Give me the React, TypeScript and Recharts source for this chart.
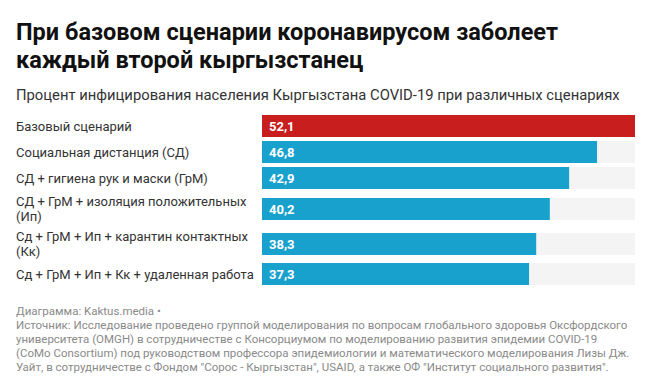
import { Bar, BarChart, LabelList, XAxis, YAxis } from 'recharts';

const categories = [
  'Базовый сценарий',
  'Социальная дистанция (СД)',
  'СД + гигиена рук и маски (ГрМ)',
  'СД + ГрМ + изоляция положительных (Ип)',
  'Сд + ГрМ + Ип + карантин контактных (Кк)',
  'Сд + ГрМ + Ип + Кк + удаленная работа',
];
const values = [52.1, 46.8, 42.9, 40.2, 38.3, 37.3];

const title = 'При базовом сценарии коронавирусом заболеет каждый второй кыргызстанец';
const subtitle = 'Процент инфицирования населения Кыргызстана COVID-19 при различных сценариях';
const credit = 'Диаграмма: Kaktus.media •';
const sourceLines = [
  'Источник: Исследование проведено группой моделирования по вопросам глобального здоровья Оксфордского',
  'университета (OMGH) в сотрудничестве с Консорциумом по моделированию развития эпидемии COVID-19',
  '(CoMo Consortium) под руководством профессора эпидемиологии и математического моделирования Лизы Дж.',
  'Уайт, в сотрудничестве с Фондом "Сорос - Кыргызстан", USAID, а также ОФ "Институт социального развития".',
];

const maxValue = Math.max(...values);
const font = 'Roboto, "Noto Sans", sans-serif';

const Row = ({ name, value, color }: any) => (
  <div style={{ display: 'flex', alignItems: 'center', marginBottom: 4 }}>
    <div
      style={{
        width: 240,
        marginRight: 6,
        fontSize: 13,
        lineHeight: '15px',
        padding: '0.5px 0',
        color: '#333',
      }}
    >
      {name}
    </div>
    <BarChart
      width={373}
      height={22}
      layout="vertical"
      data={[{ name, value }]}
      margin={{ top: 0, right: 0, bottom: 0, left: 0 }}
      barCategoryGap={0}
    >
      <XAxis type="number" domain={[0, maxValue]} hide />
      <YAxis type="category" dataKey="name" hide />
      <Bar
        dataKey="value"
        fill={color}
        background={{ fill: '#f4f4f4' }}
        isAnimationActive={false}
      >
        <LabelList
          dataKey="value"
          position="insideLeft"
          offset={7}
          fill="#fff"
          fontWeight="bold"
          fontSize={13}
          fontFamily={font}
          formatter={(v: any) => String(v).replace('.', ',')}
        />
      </Bar>
    </BarChart>
  </div>
);

const App = () => {
  return (
    <div
      style={{
        position: 'absolute',
        left: 0,
        top: 0,
        width: 653,
        height: 378,
        background: '#fff',
        fontFamily: font,
        boxSizing: 'border-box',
        padding: '18px 16px 0 16px',
        overflow: 'hidden',
      }}
    >
      <div style={{ fontSize: 23.5, fontWeight: 'bold', lineHeight: '28px', color: '#111', width: 600 }}>
        {title}
      </div>
      <div style={{ fontSize: 14.8, lineHeight: '18px', color: '#333', marginTop: 12, marginBottom: 11 }}>
        {subtitle}
      </div>
      {categories.map((c, i) => (
        <Row key={c} name={c} value={values[i]} color={i === 0 ? '#c81e1e' : '#19a1ce'} />
      ))}
      <div style={{ fontSize: 11.5, lineHeight: '14px', color: '#8a8a8a', marginTop: 19, whiteSpace: 'nowrap' }}>
        <div>{credit}</div>
        {sourceLines.map((l) => (
          <div key={l}>{l}</div>
        ))}
      </div>
    </div>
  );
};

export default App;
